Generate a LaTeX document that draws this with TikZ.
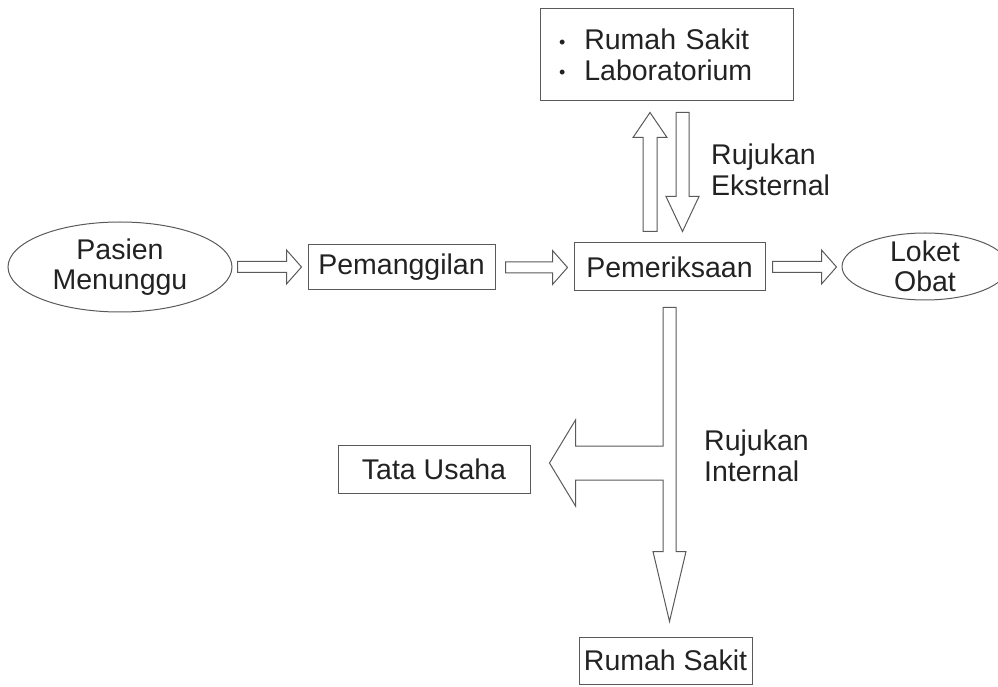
\documentclass[tikz,border=0pt]{standalone}
\usepackage{fontspec}
\setmainfont{Liberation Sans}
\usetikzlibrary{calc,shapes.geometric}
\definecolor{lc}{HTML}{5A5A5A}
\definecolor{tc}{HTML}{222222}
\newcommand\harrow[2]{\draw[blk] let \p1=#1, \p2=#2 in
  (\x1,\y1+5.5pt) -- (\x2-15pt,\y1+5.5pt) -- (\x2-15pt,\y1+17pt) -- (\x2,\y1)
  -- (\x2-15pt,\y1-17pt) -- (\x2-15pt,\y1-5.5pt) -- (\x1,\y1-5.5pt) -- cycle;}
\newcommand\smbul{{\fontsize{18}{18}\selectfont\raisebox{1.5pt}{•}}}
\begin{document}
\begin{tikzpicture}[x=1pt,y=1pt,
  txt/.style={text=tc, inner sep=0pt, font=\fontsize{28.5}{30.5}\selectfont},
  box/.style={txt, draw=lc, line width=1pt, rectangle, align=center},
  ell/.style={box, ellipse},
  lbl/.style={txt, align=left, anchor=west},
  blk/.style={draw=lc, line width=1pt, fill=white, line join=miter}]
\useasboundingbox (0,0) rectangle (998,686);
% nodes
\node[ell, minimum width=224, minimum height=90] (pas) at (120,419) {Pasien\\Menunggu};
\node[box, minimum width=187, minimum height=45] (pang) at (401.5,418.5) {Pemanggilan};
\node[box, minimum width=191, minimum height=48] (peri) at (669.5,419) {Pemeriksaan};
\node[ell, minimum width=166, minimum height=67] (lok) at (925,419.5) {};
\node[txt, align=center] (loktxt) at (lok.center) {Loket\\Obat};
\node[box, minimum width=253, minimum height=92, text width=253pt, align=left] (top) at (666.5,631)
  {\hspace*{19pt}\smbul\hspace{19pt}Rumah Sakit\\\hspace*{19pt}\smbul\hspace{19pt}Laboratorium};
\node[box, minimum width=192, minimum height=48] (tata) at (434,217) {Tata Usaha};
\node[box, minimum width=173, minimum height=47] (rs) at (665.5,25.5) {Rumah Sakit};
\node[lbl] (ekst) at (711,516) {Rujukan\\Eksternal};
\node[lbl] (intl) at (704,230) {Rujukan\\Internal};
% horizontal block arrows
\harrow{($(pas.east)+(5,0)$)}{($(pang.west)+(-6,0)$)}
\harrow{($(pang.east)+(10,0)$)}{($(peri.west)+(-6,0)$)}
\harrow{($(peri.east)+(7,0)$)}{($(lok.west)+(-5,0)$)}
% up arrow
\draw[blk] let \p1=($(peri.north)+(-19.5,11)$), \p2=($(top.south)+(0,-11)$) in
  (\x1-7pt,\y1) -- (\x1-7pt,\y2-25pt) -- (\x1-17pt,\y2-25pt) -- (\x1,\y2)
  -- (\x1+17pt,\y2-25pt) -- (\x1+7pt,\y2-25pt) -- (\x1+7pt,\y1) -- cycle;
% down arrow
\draw[blk] let \p1=($(top.south)+(16,-11)$), \p2=($(peri.north)+(13,11)$) in
  (\x2-6.5pt,\y1) -- (\x2-6.5pt,\y2+35pt) -- (\x2-16.5pt,\y2+35pt) -- (\x2,\y2)
  -- (\x2+16.5pt,\y2+35pt) -- (\x2+6.5pt,\y2+35pt) -- (\x2+6.5pt,\y1) -- cycle;
% T arrow
\draw[blk] let \p1=($(peri.south)+(0,-16)$), \p2=($(rs.north)+(4,15)$), \p3=($(tata.east)+(19,6)$) in
  (\x1-6.5pt,\y1) -- (\x1+6.5pt,\y1) -- (\x1+6.5pt,\y2+70pt) -- (\x1+16.5pt,\y2+70pt)
  -- (\x1,\y2) -- (\x1-16.5pt,\y2+70pt) -- (\x1-6.5pt,\y2+70pt) -- (\x1-6.5pt,\y3-17pt)
  -- (\x3+26pt,\y3-17pt) -- (\x3+26pt,\y3-43pt) -- (\x3,\y3) -- (\x3+26pt,\y3+43pt)
  -- (\x3+26pt,\y3+17pt) -- (\x1-6.5pt,\y3+17pt) -- cycle;
\end{tikzpicture}
\end{document}
